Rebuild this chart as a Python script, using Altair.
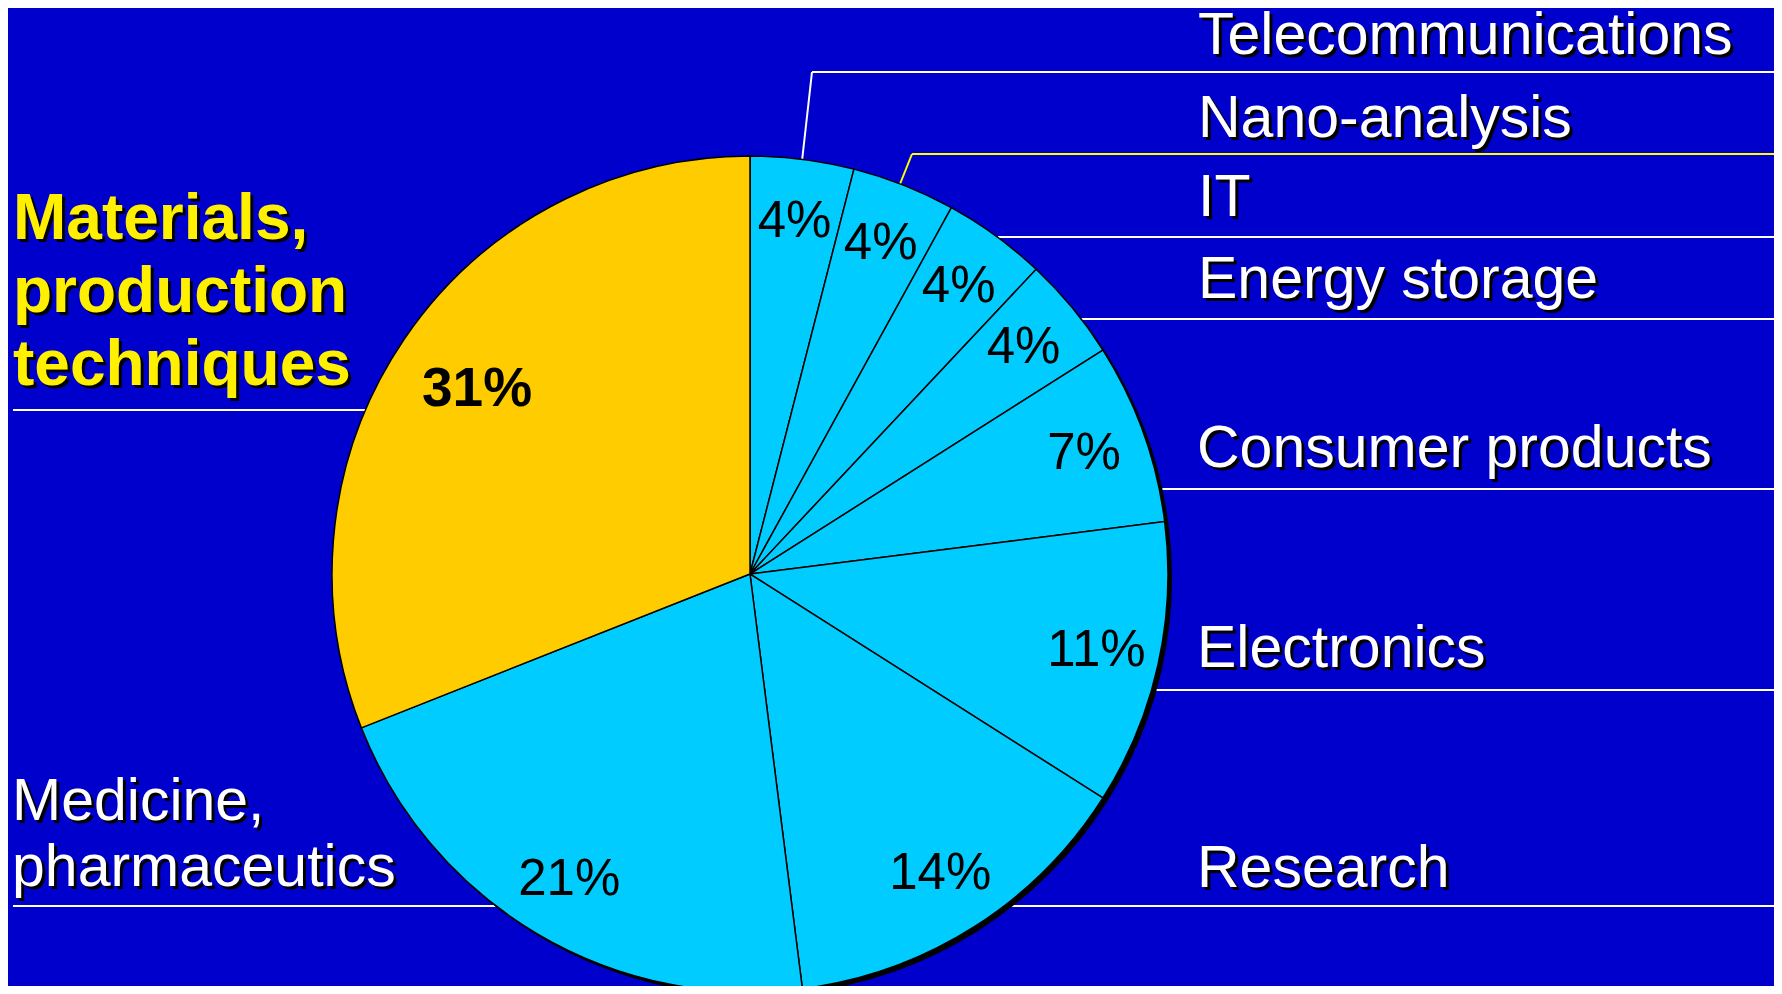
import altair as alt
import pandas as pd

# ---- data ----
categories = ["Telecommunications", "Nano-analysis", "IT", "Energy storage",
              "Consumer products", "Electronics", "Research",
              "Medicine, pharmaceutics", "Materials, production techniques"]
shares = [4, 4, 4, 4, 7, 11, 14, 21, 31]
pct_labels = ["4%", "4%", "4%", "4%", "7%", "11%", "14%", "21%", "31%"]
label_texts = ["Telecommunications", "Nano-analysis", "IT", "Energy storage",
               "Consumer products", "Electronics", "Research",
               "Medicine,\npharmaceutics", "Materials,\nproduction\ntechniques"]
HIGHLIGHT = "Materials, production techniques"

# ---- layout (pixel space of the chart) ----
W, H = 1766, 978
CX, CY, R = 742, 566, 418
label_x = [1190, 1190, 1190, 1190, 1189, 1189, 1189, 4, 5]
label_y = [46, 129, 208, 290, 459, 659, 879, 812, 231]

seg_x1 = [794, 804, 892, 904, 990, 1070, 1140, 1140, 990, 5, 5]
seg_y1 = [153, 64, 176, 146, 229, 311, 481, 682, 898, 402, 898]
seg_x2 = [804, 1766, 904, 1766, 1766, 1766, 1766, 1766, 1766, 520, 600]
seg_y2 = [64, 64, 146, 146, 229, 311, 481, 682, 898, 402, 898]
seg_kind = ["white", "white", "yellow", "yellow", "white", "white", "white",
            "white", "white", "white", "white"]

BG = "#0000CC"
CYAN = "#00CCFF"
GOLD = "#FFCC00"
YELLOW = "#FFF000"
FONT = "Liberation Sans"

pie_df = pd.DataFrame({
    "category": categories,
    "share": shares,
    "pct": pct_labels,
    "idx": list(range(len(categories))),
})
lab_df = pd.DataFrame({
    "category": categories,
    "label": label_texts,
    "lx": label_x,
    "ly": label_y,
})
seg_df = pd.DataFrame({"x1": seg_x1, "y1": seg_y1, "x2": seg_x2, "y2": seg_y2,
                       "kind": seg_kind})

xs = alt.Scale(domain=[0, W], range=[0, W], nice=False, zero=False)
ys = alt.Scale(domain=[0, H], range=[0, H], nice=False, zero=False)

segs = alt.Chart(seg_df).mark_rule(strokeWidth=2).encode(
    x=alt.X("x1:Q", scale=xs, axis=None),
    y=alt.Y("y1:Q", scale=ys, axis=None),
    x2="x2:Q",
    y2="y2:Q",
    color=alt.Color("kind:N", scale=alt.Scale(domain=["white", "yellow"],
                                              range=["#FFFFFF", "#FFFF00"]),
                    legend=None),
)

theta = alt.Theta("share:Q", stack=True)
order = alt.Order("idx:Q", sort="ascending")
base = alt.Chart(pie_df)

shadow = base.mark_arc(outerRadius=R, color="black").encode(
    theta=theta, order=order, x=alt.value(CX + 4), y=alt.value(CY + 4))

pie = base.mark_arc(outerRadius=R, stroke="black", strokeWidth=1.5).encode(
    theta=theta, order=order,
    color=alt.Color("category:N",
                    scale=alt.Scale(domain=categories,
                                    range=[CYAN] * 8 + [GOLD]),
                    legend=None),
    x=alt.value(CX), y=alt.value(CY))

is_hl = alt.datum.category == HIGHLIGHT

pct_regular = base.mark_text(font=FONT, fontSize=51, color="black",
                             align="center", baseline="middle", radius=355).encode(
    theta=theta, order=order,
    text=alt.condition(is_hl, alt.value(""), alt.Text("pct:N")),
    x=alt.value(CX), y=alt.value(CY))

pct_bold = base.mark_text(font=FONT, fontSize=55, fontWeight="bold", color="black",
                          align="center", baseline="middle", radius=330).encode(
    theta=theta, order=order,
    text=alt.condition(is_hl, alt.Text("pct:N"), alt.value("")),
    x=alt.value(CX), y=alt.value(CY))

lab_base = alt.Chart(lab_df)
pos = dict(x=alt.X("lx:Q", scale=xs, axis=None), y=alt.Y("ly:Q", scale=ys, axis=None))

reg_filter = alt.datum.category != HIGHLIGHT
hl_filter = alt.datum.category == HIGHLIGHT

lab_shadow = lab_base.transform_filter(reg_filter).mark_text(
    font=FONT, fontSize=59, color="black", align="left", baseline="alphabetic",
    lineBreak="\n", lineHeight=66, dx=3, dy=3).encode(text="label:N", **pos)
lab_main = lab_base.transform_filter(reg_filter).mark_text(
    font=FONT, fontSize=59, color="white", align="left", baseline="alphabetic",
    lineBreak="\n", lineHeight=66).encode(text="label:N", **pos)

hl_shadow = lab_base.transform_filter(hl_filter).mark_text(
    font=FONT, fontSize=64, fontWeight="bold", color="black", align="left",
    baseline="alphabetic", lineBreak="\n", lineHeight=73, dx=3, dy=3).encode(
    text="label:N", **pos)
hl_main = lab_base.transform_filter(hl_filter).mark_text(
    font=FONT, fontSize=64, fontWeight="bold", color=YELLOW, align="left",
    baseline="alphabetic", lineBreak="\n", lineHeight=73).encode(
    text="label:N", **pos)

chart = alt.layer(
    segs, shadow, pie, pct_regular, pct_bold,
    lab_shadow, lab_main, hl_shadow, hl_main
).resolve_scale(color="independent").properties(
    width=W, height=H, padding=0, autosize="none", background=BG
).configure_view(stroke=None)

chart.save("out.html", embed_options={"renderer": "svg", "actions": False})
